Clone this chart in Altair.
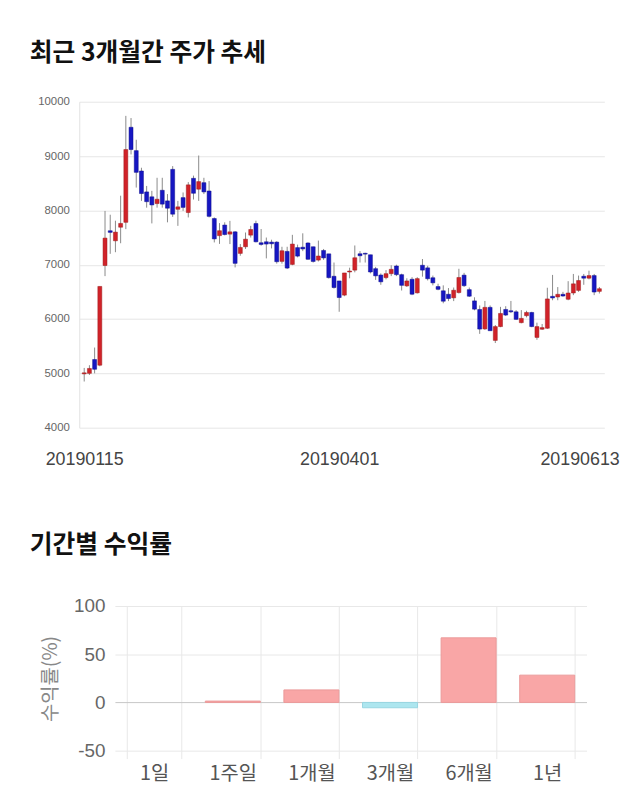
import altair as alt
import pandas as pd

# ---- candlestick data ----
opens = [4990, 5000, 5255, 5150, 6985, 7625, 7440, 7690, 7780, 9530,
         9100, 8725, 8340, 8250, 8125, 8370, 8175, 8755, 8020, 8235,
         7960, 8590, 8390, 8510, 8357, 7850, 7535, 7730, 7563, 7605,
         7208, 7330, 7544, 7758, 7404, 7422, 7416, 7416, 7061, 7245,
         7005, 7315, 7322, 7400, 7330, 7085, 7262, 7200, 6787, 6701,
         6440, 6866, 6900, 7201, 7210, 7183, 6927, 6810, 6762, 6835,
         6976, 6817, 6610, 6732, 6482, 6990, 6942, 6760, 6598, 6520,
         6456, 6390, 6487, 6808, 6541, 6334, 6176, 5818, 6215, 5606,
         5861, 6176, 6152, 6133, 5933, 6061, 6121, 5661, 5812, 5830,
         6418, 6406, 6455, 6364, 6479, 6527, 6788, 6752, 6800, 6509]
closes = [5010, 5090, 5075, 6600, 7490, 7595, 7600, 7760, 9120, 9120,
          8700, 8310, 8160, 8100, 8205, 8115, 8040, 7930, 8065, 8055,
          8470, 8315, 8530, 8340, 7890, 7475, 7626, 7555, 7605, 7025,
          7318, 7470, 7648, 7422, 7373, 7380, 7385, 7055, 7257, 6938,
          7380, 7158, 7290, 7100, 7060, 7160, 7125, 6762, 6580, 6396,
          6848, 6884, 7128, 7165, 7195, 6866, 6795, 6685, 6835, 6915,
          6817, 6620, 6701, 6457, 6744, 6900, 6742, 6666, 6547, 6328,
          6377, 6530, 6765, 6614, 6420, 6182, 5815, 6215, 5785, 5861,
          6103, 6073, 6133, 5994, 6012, 6121, 5861, 5861, 5842, 6370,
          6388, 6455, 6424, 6479, 6648, 6709, 6752, 6800, 6497, 6558]
highs = [5100, 5150, 5475, 6600, 7990, 7920, 7810, 8270, 9740, 9700,
         9300, 8785, 8450, 8360, 8600, 8600, 8300, 8815, 8175, 8330,
         8520, 8640, 9010, 8600, 8540, 7870, 7766, 7780, 7807, 7620,
         7380, 7593, 7715, 7810, 7657, 7500, 7460, 7432, 7330, 7330,
         7550, 7370, 7578, 7413, 7334, 7444, 7290, 7200, 7040, 6701,
         6848, 6945, 7354, 7250, 7220, 7183, 6960, 6840, 6900, 6990,
         7000, 6835, 6750, 6770, 6770, 7105, 6980, 6800, 6650, 6620,
         6570, 6580, 6925, 6850, 6580, 6400, 6250, 6333, 6250, 5890,
         6224, 6236, 6333, 6164, 6164, 6152, 6133, 5933, 5909, 6576,
         6812, 6588, 6500, 6697, 6830, 6800, 6830, 6890, 6830, 6590]
lows = [4850, 4970, 5000, 5130, 6790, 7200, 7230, 7395, 7655, 9030,
        8420, 8175, 8050, 7760, 8050, 8050, 7780, 7880, 7715, 7990,
        7870, 8200, 8175, 8300, 7870, 7410, 7383, 7540, 7380, 6950,
        7165, 7290, 7500, 7410, 7350, 7116, 7300, 7020, 7020, 6920,
        6990, 7135, 7250, 7090, 7040, 7060, 7090, 6745, 6560, 6134,
        6420, 6750, 6860, 7040, 7040, 6840, 6720, 6630, 6730, 6790,
        6790, 6525, 6590, 6440, 6470, 6780, 6710, 6620, 6530, 6290,
        6330, 6330, 6470, 6590, 6405, 6160, 5727, 5800, 5782, 5558,
        5850, 6055, 6110, 5982, 5921, 6030, 5850, 5618, 5800, 5818,
        6346, 6346, 6410, 6346, 6440, 6500, 6630, 6730, 6440, 6470]

tick_idx = [0, 49, 99]
tick_lab = ["20190115", "20190401", "20190613"]

# ---- period returns ----
periods = ["1일", "1주일", "1개월", "3개월", "6개월", "1년"]
returns = [0.0, 1.4, 13.0, -5.5, 67.0, 28.3]

RED = "#d12229"
BLUE = "#1616c2"
FONT = "Liberation Sans, Noto Sans CJK KR"
KFONT = "Noto Sans CJK KR"

candles = pd.DataFrame({
    "i": list(range(len(opens))),
    "open": opens, "close": closes, "high": highs, "low": lows,
})

label_expr = " : ".join(
    f"datum.value == {v} ? '{t}'" for v, t in zip(tick_idx[:-1], tick_lab[:-1])
) + f" : '{tick_lab[-1]}'"

xscale = alt.Scale(domain=[0, len(opens) - 1], range=[-36, 494], nice=False, zero=False)
yscale = alt.Scale(domain=[4000, 10000], nice=False, zero=False)

base = alt.Chart(candles).encode(
    x=alt.X("i:Q", scale=xscale,
            axis=alt.Axis(values=tick_idx, labelExpr=label_expr, title=None,
                          grid=False, ticks=False, domain=False,
                          labelFontSize=18, labelColor="#444", labelFont=FONT,
                          labelPadding=23, labelFlush=False, labelOverlap=False,
                          labelOffset={"condition": {"test": f"datum.value == {tick_idx[-1]}", "value": -20},
                                       "value": 0}))
)
wick = base.mark_rule(color="#8a8a8a", strokeWidth=1).encode(
    y=alt.Y("low:Q", scale=yscale,
            axis=alt.Axis(values=list(range(4000, 10001, 1000)), title=None, format="d",
                          offset=36, ticks=False, domain=True, domainColor="#e2e2e2",
                          gridColor="#e6e6e6", labelFontSize=11.5, labelColor="#666",
                          labelFont=FONT, labelPadding=10)),
    y2="high:Q",
)
body = base.mark_bar(size=4, strokeWidth=0.5).encode(
    y="open:Q", y2="close:Q",
    fill=alt.condition("datum.close >= datum.open", alt.value(RED), alt.value(BLUE)),
    stroke=alt.condition("datum.close >= datum.open", alt.value("#9c1a1a"), alt.value("#0d0d8a")),
)
top = alt.layer(wick, body).properties(
    width=494, height=329,
    title=alt.TitleParams("최근 3개월간 주가 추세", anchor="start", frame="group", dx=-86,
                          fontSize=25, font=KFONT, fontWeight="bold", color="#111", offset=30),
)

# ---- bottom bar chart ----
ret = pd.DataFrame({"period": periods, "ret": returns})

bars = alt.Chart(ret).mark_bar(strokeWidth=1).encode(
    x=alt.X("period:N", sort=periods,
            scale=alt.Scale(paddingInner=0.3, paddingOuter=0.15),
            axis=alt.Axis(title=None, labelAngle=0, tickBand="extent", grid=True,
                          gridColor="#e8e8e8", ticks=True, tickColor="#e8e8e8", tickSize=8,
                          domain=False, labelFontSize=20, labelColor="#555", labelFont=KFONT,
                          labelPadding=5)),
    y=alt.Y("ret:Q", scale=alt.Scale(domain=[-50, 100], nice=False, zero=False),
            axis=alt.Axis(values=[-50, 0, 50, 100], title="수익률(%)", titleFont=KFONT,
                          labelExpr="'' + datum.value",
                          titleFontSize=20, titleFontWeight="normal", titleColor="#888",
                          titlePadding=13, ticks=False, domain=False,
                          gridColor={"condition": {"test": "datum.value === 0", "value": "#c6c6c6"},
                                     "value": "#e8e8e8"},
                          labelFontSize=19, labelColor="#666", labelFont=FONT, labelPadding=10)),
    fill=alt.condition("datum.ret >= 0", alt.value("#f9a6a6"), alt.value("#ade6ef")),
    stroke={"condition": [{"test": "datum.ret > 0", "value": "#eb9a9a"},
                          {"test": "datum.ret < 0", "value": "#98d6e2"}],
            "value": "transparent"},
).properties(
    width=476, height=146,
    title=alt.TitleParams("기간별 수익률", anchor="start", frame="group", dx=-86,
                          fontSize=25, font=KFONT, fontWeight="bold", color="#111", offset=40),
)

chart = alt.vconcat(top, bars, spacing=65).properties(
    padding={"left": 30, "top": 38, "right": 0, "bottom": 0}
).configure_view(stroke=None)

chart.save("out.html", embed_options={"renderer": "svg", "actions": False})
